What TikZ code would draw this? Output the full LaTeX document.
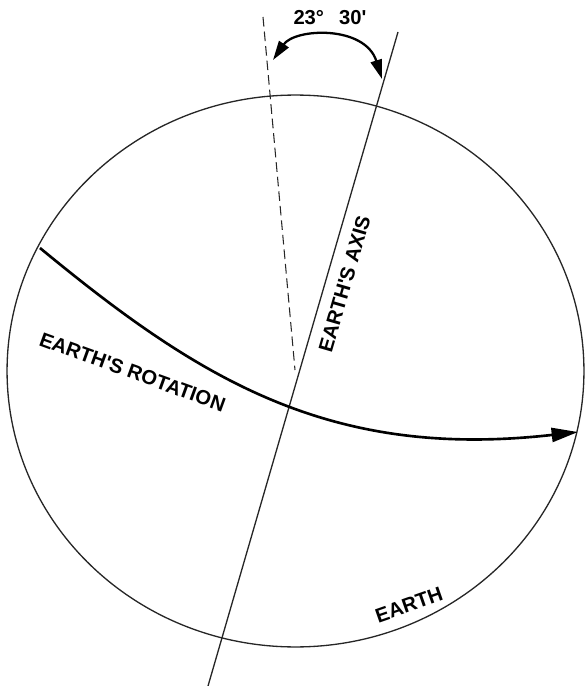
\documentclass[tikz,border=0pt]{standalone}
\usepackage{fontspec}
\setmainfont{Liberation Sans}
\usetikzlibrary{arrows.meta}

\begin{document}
\begin{tikzpicture}[x=0.02cm,y=-0.02cm]

    \tikzset{
      earthline/.style={
        color=black!85,
        line width=0.75pt,
      },
      rotline/.style={
        color=black,
        line width=1.5pt,
        -{Triangle[length=15pt,width=8pt]},
      },
      angleline/.style={
        color=black,
        line width=1.3pt,
        {Triangle[length=11pt,width=6.5pt]}-{Triangle[length=11pt,width=6.5pt]},
      },
      label/.style={
        inner sep=0pt,
        font=\bfseries\fontsize{11.5}{13}\selectfont,
      },
    }

	\useasboundingbox (0,0) rectangle (585,686);

	% points
	\coordinate (axistop) at (398,32);
	\coordinate (axisbot) at (208,686);
	\coordinate (verttop) at (263,17);
	\coordinate (vertbot) at (295,370);
	\coordinate (rotstart) at (40,248);
	\coordinate (rotend) at (578,432);
	\coordinate (angleft) at (273,60);
	\coordinate (angright) at (382,79);

	\draw[earthline] (295.5,371) ellipse [x radius=5.77cm, y radius=5.52cm];
	\draw[earthline] (axistop)--(axisbot);
	\draw[color=black!85,line width=0.6pt,dash pattern=on 5.5pt off 2.8pt] (verttop)--(vertbot);
	\draw[rotline] (rotstart) .. controls (200,380) and (330,460) .. (rotend);
	\draw[angleline] (angleft) .. controls (295,28) and (365,25) .. (angright);

	\node[label] (lblangle) at (330,18) {23°\hspace{0.75em}30\textquotesingle};
	\node[label,rotate=73.8] (lblaxis) at (344.5,284) {EARTH\textquotesingle S AXIS};
	\node[label,rotate=-20] (lblrot) at (132.5,372) {EARTH\textquotesingle S ROTATION};
	\node[label,rotate=19.3] (lblearth) at (409,605) {EARTH};

\end{tikzpicture}
\end{document}
